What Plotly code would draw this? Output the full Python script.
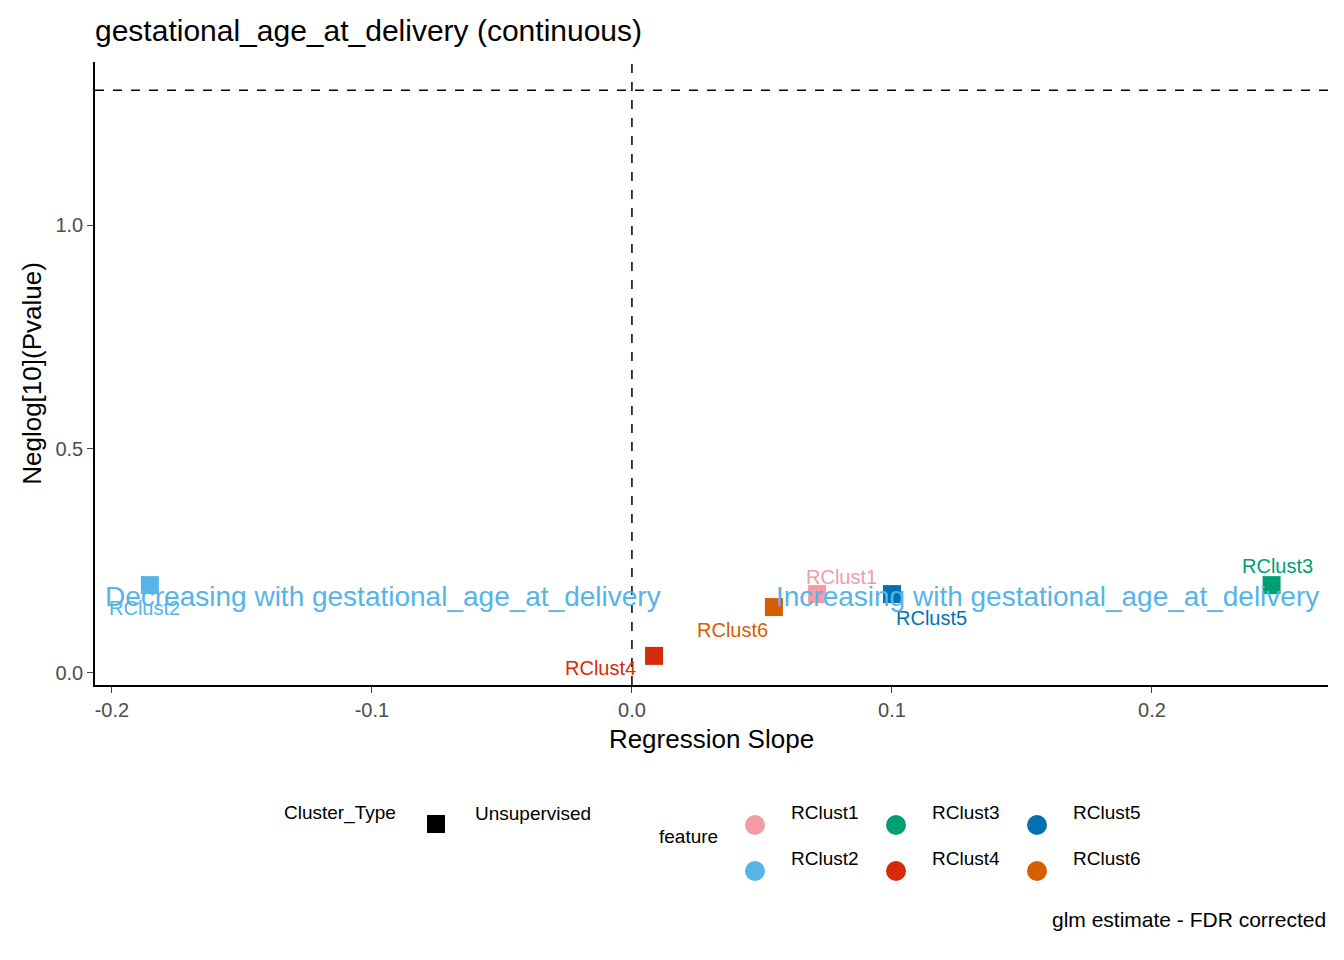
import plotly.graph_objects as go

features = ["RClust1", "RClust2", "RClust3", "RClust4", "RClust5", "RClust6"]
slope = [0.0712, -0.1854, 0.246, 0.0085, 0.100, 0.0546]
neglogp = [0.176, 0.196, 0.196, 0.038, 0.176, 0.147]
colors = ["#F59BA6", "#56B4E9", "#009E73", "#D62B0A", "#0072B2", "#D55E00"]
# label offsets in pixels (ggrepel style placement)
label_dx = [24, -5, 6, -54, 40, -41]
label_dy = [-17, 23, -19, 12, 24, 23]

FONT = "Liberation Sans, Arial, sans-serif"
OFF = 8  # page body offset
fig = go.Figure()

for f, x, y, c, dx, dy in zip(features, slope, neglogp, colors, label_dx, label_dy):
    fig.add_trace(go.Scatter(x=[x], y=[y], mode="markers", name=f,
                             marker=dict(symbol="square", size=18, color=c),
                             showlegend=False))
    fig.add_annotation(x=x, y=y, text=f, showarrow=False, xshift=dx, yshift=-dy,
                       font=dict(size=20, color=c, family=FONT))

fig.add_hline(y=1.30103, line=dict(color="black", dash="dash", width=1.5))
fig.add_vline(x=0, line=dict(color="black", dash="dash", width=1.5))

for txt, x in [("Decreasing with gestational_age_at_delivery", -0.0958),
               ("Increasing with gestational_age_at_delivery", 0.160)]:
    fig.add_annotation(x=x, y=0.17, text=txt, showarrow=False,
                       font=dict(size=28, color="#56B4E9", family=FONT))

# legend drawn at bottom in paper coordinates (reference pixel positions)
def px(xp):
    return (xp - 95) / 1233


def py(yp):
    return (685 - yp) / 623


def label(x, y, t, anchor="center", size=19):
    fig.add_annotation(xref="paper", yref="paper", x=px(x), y=py(y), text=t,
                       showarrow=False, xanchor=anchor,
                       font=dict(size=size, color="black", family=FONT))


label(340, 826, "Cluster_Type")
label(533, 826, "Unsupervised")
fig.add_shape(type="rect", xref="paper", yref="paper", xsizemode="pixel", ysizemode="pixel",
              xanchor=px(436), yanchor=py(824), x0=-9, x1=9, y0=-9, y1=9,
              fillcolor="black", line=dict(width=0))
label(688, 849, "feature")
cols_x = [755, 896, 1037]
rows_y = [825, 871]
for i, (f, c) in enumerate(zip(features, colors)):
    cx = cols_x[i // 2]
    cy = rows_y[i % 2]
    fig.add_shape(type="circle", xref="paper", yref="paper", xsizemode="pixel",
                  ysizemode="pixel", xanchor=px(cx), yanchor=py(cy),
                  x0=-10, x1=10, y0=-10, y1=10, fillcolor=c, line=dict(width=0))
    label(cx + 70, cy, f)

label(1328, 933, "glm estimate - FDR corrected", anchor="right", size=21)

fig.update_layout(
    width=1344, height=960, plot_bgcolor="white", paper_bgcolor="white",
    margin=dict(l=95 - OFF, r=16 + OFF, t=62 - OFF, b=275 + OFF),
    font=dict(family=FONT, color="black"),
    title=dict(text="gestational_age_at_delivery (continuous)", x=(95 - OFF) / 1344, xanchor="left",
               y=1 - (30 - OFF) / 960, yanchor="middle", font=dict(size=30)),
    xaxis=dict(range=[-0.2065, 0.2677], tickvals=[-0.2, -0.1, 0.0, 0.1, 0.2],
               ticktext=["-0.2", "-0.1", "0.0", "0.1", "0.2"], showgrid=False, zeroline=False,
               showline=True, linecolor="black", linewidth=1.5, ticks="outside", ticklen=6,
               tickfont=dict(size=20, color="#4D4D4D"),
               title=dict(text="Regression Slope", font=dict(size=26), standoff=10)),
    yaxis=dict(range=[-0.027, 1.364], tickvals=[0, 0.5, 1.0],
               ticktext=["0.0", "0.5", "1.0"], showgrid=False, zeroline=False,
               showline=True, linecolor="black", linewidth=1.5, ticks="outside", ticklen=6,
               tickfont=dict(size=20, color="#4D4D4D"),
               title=dict(text="Neglog[10](Pvalue)", font=dict(size=26), standoff=6)),
)

fig.write_html("out.html")
